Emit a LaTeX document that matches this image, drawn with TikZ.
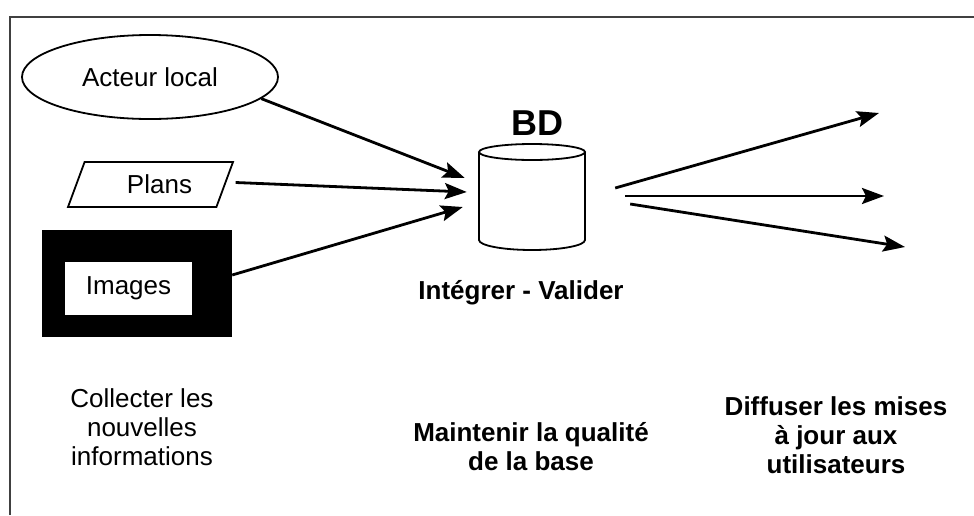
\documentclass[tikz,border=0pt]{standalone}
\usepackage{fontspec}
\setmainfont{Liberation Sans}
\usetikzlibrary{shapes.geometric, arrows.meta, positioning}

\begin{document}
\begin{tikzpicture}[
    x=1pt, y=-1pt,
    txt/.style={font=\fontsize{26}{29}\selectfont, align=center},
    boldtxt/.style={font=\fontsize{26}{29}\selectfont\bfseries, align=center},
    arrow/.style={-{Stealth[length=22pt, width=16pt, inset=4pt]}, line width=2.8pt},
    shapeline/.style={draw, line width=1.8pt}
]
\useasboundingbox (0,0) rectangle (974,515);

% Frame
\draw[line width=2.5pt, black!75] (10,515) -- (10,17) -- (974,17);

% Sources, left
\node[ellipse, shapeline, minimum width=256pt, minimum height=84pt, txt] (acteur) at (150,77) {Acteur local};
\node[trapezium, trapezium left angle=49, trapezium right angle=131, trapezium stretches body,
      shapeline, minimum width=165pt, minimum height=45pt, inner sep=0pt, txt] (plans) at (150.5,184.5) {\hspace*{18pt}Plans};
\node[rectangle, fill=black, minimum width=190pt, minimum height=107pt] (imgframe) at (137,283.5) {};
\node[rectangle, fill=white, minimum width=127pt, minimum height=53pt, txt] (images) at (128.5,288.5) {Images};

% Database, centre (cylinder drawn on the node)
\node[minimum width=106pt, minimum height=106pt, inner sep=0pt] (bd) at (532,197) {};
\draw[shapeline] (479,152) -- (479,240) arc[start angle=180, end angle=0, x radius=53, y radius=10] -- (585,152);
\draw[shapeline] (532,152) ellipse[x radius=53, y radius=8];
\node[font=\fontsize{36}{40}\selectfont\bfseries] (bdlabel) at (537,123) {BD};
\node[boldtxt] (valider) at (521,293) {Intégrer - Valider};

% Targets, right
\coordinate (out1) at (879,113);
\coordinate (out2) at (884,196);
\coordinate (out3) at (905,247);

% Captions
\node[txt] (collecter) at (142,427) {Collecter les\\nouvelles\\informations};
\node[boldtxt] (maintenir) at (531,447) {Maintenir la qualité\\de la base};
\node[boldtxt] (diffuser) at (836,435) {Diffuser les mises\\à jour aux\\utilisateurs};

% Arrows
\draw[arrow] (acteur.-11) -- ([xshift=-14pt, yshift=19pt]bd.west);
\draw[arrow] ([xshift=10pt, yshift=2pt]plans.east) -- ([xshift=-12pt, yshift=5pt]bd.west);
\draw[arrow] ([yshift=8.5pt]imgframe.east) -- ([xshift=-16pt, yshift=-10pt]bd.west);
\draw[arrow] ([xshift=30pt, yshift=9pt]bd.east) -- (out1);
\draw[arrow] ([xshift=40pt, yshift=1pt]bd.east) -- (out2);
\draw[arrow] ([xshift=45pt, yshift=-7pt]bd.east) -- (out3);

\end{tikzpicture}
\end{document}
